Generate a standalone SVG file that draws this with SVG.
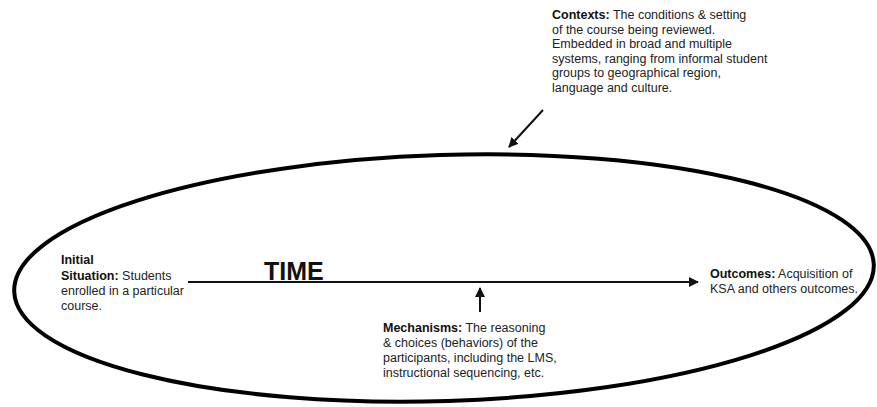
<svg xmlns="http://www.w3.org/2000/svg" width="877" height="407" viewBox="0 0 877 407">
<style>
.t{font-family:"Liberation Sans",Arial,Helvetica,sans-serif;font-size:12.5px;fill:#222}
.b{font-weight:bold;fill:#111}
.time{font-family:"Liberation Sans",Arial,Helvetica,sans-serif;font-size:25px;font-weight:bold;fill:#111}
.ln{stroke:#111;stroke-width:2;fill:none}
</style>
<defs>
<marker id="ah" viewBox="0 0 10 10" refX="9" refY="5" markerWidth="5" markerHeight="5" orient="auto" markerUnits="strokeWidth">
<path d="M0,0 L10,5 L0,10 z" fill="#111"/>
</marker>
</defs>
<rect width="877" height="407" fill="#fff"/>
<g id="context-ellipse">
<ellipse cx="444" cy="278" rx="430" ry="123" transform="rotate(-1.8 444 278)" fill="none" stroke="#000" stroke-width="4"/>
</g>
<g id="connectors">
<line class="ln" x1="188" y1="282" x2="698" y2="282" marker-end="url(#ah)"/>
<line class="ln" x1="480" y1="312" x2="480" y2="288" marker-end="url(#ah)"/>
<line class="ln" x1="543" y1="110" x2="509" y2="147" marker-end="url(#ah)"/>
</g>
<g id="contexts">
<text class="t" x="552" y="19"><tspan class="b">Contexts:</tspan> The conditions &amp; setting</text>
<text class="t" x="552" y="33.6">of the course being reviewed.</text>
<text class="t" x="552" y="48.2">Embedded in broad and multiple</text>
<text class="t" x="552" y="62.8">systems, ranging from informal student</text>
<text class="t" x="552" y="77.4">groups to geographical region,</text>
<text class="t" x="552" y="92">language and culture.</text>
</g>
<g id="initial-situation">
<text class="t b" x="61" y="264">Initial</text>
<text class="t" x="61" y="280"><tspan class="b">Situation:</tspan> Students</text>
<text class="t" x="61" y="295">enrolled in a particular</text>
<text class="t" x="61" y="310">course.</text>
</g>
<g id="time">
<text class="time" x="264" y="280">TIME</text>
</g>
<g id="outcomes">
<text class="t" x="710" y="278"><tspan class="b">Outcomes:</tspan> Acquisition of</text>
<text class="t" x="710" y="293">KSA and others outcomes.</text>
</g>
<g id="mechanisms">
<text class="t" x="383" y="332"><tspan class="b">Mechanisms:</tspan> The reasoning</text>
<text class="t" x="383" y="347">&amp; choices (behaviors) of the</text>
<text class="t" x="383" y="362">participants, including the LMS,</text>
<text class="t" x="383" y="377">instructional sequencing, etc.</text>
</g>
</svg>
